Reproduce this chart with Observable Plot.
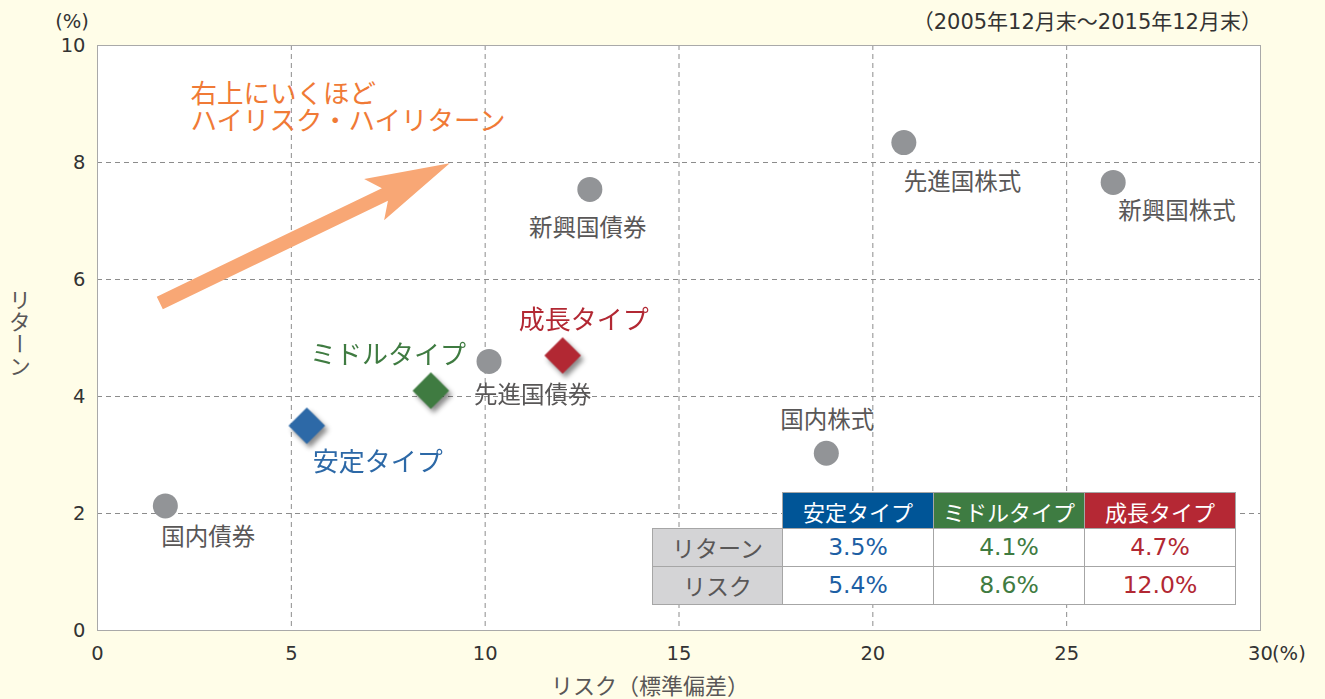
<!DOCTYPE html>
<html><head><meta charset="utf-8">
<script src="https://cdn.jsdelivr.net/npm/d3@7"></script>
<script src="https://cdn.jsdelivr.net/npm/@observablehq/plot@0.6"></script>
<style>
body{margin:0;background:#fffde8;}
#wrap{position:relative;width:1325px;height:699px;font-family:"Noto Sans CJK JP",sans-serif;color:#595757;overflow:hidden;}
#wrap svg{position:absolute;left:0;top:0;}
.ov{position:absolute;white-space:nowrap;line-height:1;}
table.tb{position:absolute;left:652px;top:492px;border-collapse:collapse;font-family:"Noto Sans CJK JP",sans-serif;}
table.tb td{border:1px solid #a6a6a6;text-align:center;padding:0;line-height:1;}
table.tb td.hd{color:#fff;font-size:22px;height:35px;}
table.tb td.rh{background:#d4d4d6;color:#595757;font-size:23px;width:129px;height:37px;}
table.tb td.val{background:#fff;font-size:23.5px;font-family:"DejaVu Sans","Noto Sans CJK JP",sans-serif;width:150px;}
table.tb td.empty{border:none;background:transparent;}
</style></head><body><div id="wrap"></div>
<script>
// ---- data ----
const assetNames = ["国内債券","先進国債券","新興国債券","国内株式","先進国株式","新興国株式"];
const assetRisk = [1.75, 10.1, 12.7, 18.8, 20.8, 26.2];
const assetReturn = [2.13, 4.6, 7.54, 3.03, 8.34, 7.66];
const typeNames = ["安定タイプ","ミドルタイプ","成長タイプ"];
const typeRisk = [5.4, 8.6, 12.0];
const typeReturn = [3.5, 4.1, 4.7];
const typeColors = ["#2d69a7","#3f7b41","#b22833"];
const typeHeaderColors = ["#005597","#3e7c42","#b52834"];
const typeTextColors = ["#1d5fa4","#3f7b41","#b22833"];
const xTicks = [0,5,10,15,20,25,30];
const yTicks = [0,2,4,6,8,10];
const arrowFrom = [1.62, 5.59];
const arrowTo = [9.1, 7.98];
const noteText = "右上にいくほど\nハイリスク・ハイリターン";
const notePos = [2.4, 8.94];
const tableRowNames = ["リターン","リスク"];
const titleText = "（2005年12月末～2015年12月末）";
const xLabel = "リスク（標準偏差）";
const yLabel = "リターン";

const assets = assetNames.map((n,i)=>({name:n, x:assetRisk[i], y:assetReturn[i]}));
const types = typeNames.map((n,i)=>({name:n, x:typeRisk[i], y:typeReturn[i], color:typeColors[i]}));

const labelFont = "'Noto Sans CJK JP',sans-serif";
const pick = names => d => names.includes(d.name);

function arrowMark(index, scales) {
  const sx = scales.x, sy = scales.y;
  const x0 = sx(arrowFrom[0]), y0 = sy(arrowFrom[1]);
  const x1 = sx(arrowTo[0]), y1 = sy(arrowTo[1]);
  const dx = x1-x0, dy = y1-y0, L = Math.hypot(dx,dy);
  const ux = dx/L, uy = dy/L, nx = -uy, ny = ux;
  const headLen = 84, headHalf = 23, shaftHalf = 7;
  const bx = x1 - ux*headLen, by = y1 - uy*headLen;
  const pts = [
    [x0 + nx*shaftHalf, y0 + ny*shaftHalf],
    [bx + ux*12 + nx*shaftHalf, by + uy*12 + ny*shaftHalf],
    [bx + nx*headHalf, by + ny*headHalf],
    [x1, y1],
    [bx - nx*headHalf, by - ny*headHalf],
    [bx + ux*12 - nx*shaftHalf, by + uy*12 - ny*shaftHalf],
    [x0 - nx*shaftHalf, y0 - ny*shaftHalf]
  ];
  const p = document.createElementNS("http://www.w3.org/2000/svg","path");
  p.setAttribute("d", "M" + pts.map(q=>q.join(",")).join("L") + "Z");
  p.setAttribute("fill", "#f8a775");
  const g = document.createElementNS("http://www.w3.org/2000/svg","g");
  g.appendChild(p);
  return g;
}

const plot = Plot.plot({
  width: 1325, height: 699,
  marginLeft: 97, marginRight: 65, marginTop: 45, marginBottom: 69,
  style: {background: "transparent", fontFamily: "'DejaVu Sans','Noto Sans CJK JP',sans-serif", fontSize: "19px", color: "#333"},
  x: {domain: [0,30], label: null},
  y: {domain: [0,10], label: null},
  color: {type: "identity"},
  marks: [
    Plot.frame({fill: "white", stroke: "none"}),
    Plot.gridX(xTicks.slice(1,-1), {stroke: "#8c8c8c", strokeOpacity: 1, strokeDasharray: "5,4"}),
    Plot.gridY(yTicks.slice(1,-1), {stroke: "#8c8c8c", strokeOpacity: 1, strokeDasharray: "5,4"}),
    Plot.frame({stroke: "#a9a9a9"}),
    Plot.axisX(xTicks, {tickSize: 0, tickPadding: 16, fontSize: 19.5, fill: "#333", tickFormat: d => String(d)}),
    Plot.axisY(yTicks, {tickSize: 0, tickPadding: 12, fontSize: 19.5, fill: "#333", tickFormat: d => String(d)}),
    arrowMark,
    Plot.text([noteText], {x: () => notePos[0], y: () => notePos[1], text: d => d, textAnchor: "start", fontSize: 26.5, lineHeight: 1.03, fill: "#f07a36", fontFamily: labelFont}),
    Plot.dot(assets, {x: "x", y: "y", r: 12.5, fill: "#929497"}),
    Plot.dot(types, {x: "x", y: "y", symbol: "diamond2", r: 16.5, fill: "color"}),
    // asset labels
    Plot.text(assets, {filter: pick(["国内債券"]), x: "x", y: "y", text: "name", textAnchor: "start", dx: -4, dy: 32, fontSize: 23.5, fill: "#595757", fontFamily: labelFont}),
    Plot.text(assets, {filter: pick(["新興国債券"]), x: "x", y: "y", text: "name", dx: -2, dy: 39, fontSize: 23.5, fill: "#595757", fontFamily: labelFont}),
    Plot.text(assets, {filter: pick(["先進国株式"]), x: "x", y: "y", text: "name", textAnchor: "start", dx: 0, dy: 40, fontSize: 23.5, fill: "#595757", fontFamily: labelFont}),
    Plot.text(assets, {filter: pick(["新興国株式"]), x: "x", y: "y", text: "name", textAnchor: "start", dx: 5, dy: 29, fontSize: 23.5, fill: "#595757", fontFamily: labelFont}),
    Plot.text(assets, {filter: pick(["国内株式"]), x: "x", y: "y", text: "name", dx: 1, dy: -33, fontSize: 23.5, fill: "#595757", fontFamily: labelFont}),
    Plot.text(assets, {filter: pick(["先進国債券"]), x: "x", y: "y", text: "name", textAnchor: "start", dx: -15, dy: 34, fontSize: 23.5, fill: "#595757", fontFamily: labelFont}),
    // type labels
    Plot.text(types, {filter: pick(["安定タイプ"]), x: "x", y: "y", text: "name", textAnchor: "start", dx: 6, dy: 37, fontSize: 26, fill: "color", fontFamily: labelFont}),
    Plot.text(types, {filter: pick(["ミドルタイプ"]), x: "x", y: "y", text: "name", textAnchor: "end", dx: 35, dy: -35, fontSize: 26, fill: "color", fontFamily: labelFont}),
    Plot.text(types, {filter: pick(["成長タイプ"]), x: "x", y: "y", text: "name", dx: 21, dy: -35, fontSize: 26, fill: "color", fontFamily: labelFont})
  ]
});

const wrap = document.getElementById("wrap");
wrap.appendChild(plot);
const dotGroups = plot.querySelectorAll('g[aria-label="dot"]');
if (dotGroups.length > 1) dotGroups[1].style.filter = "drop-shadow(3px 4px 2.5px rgba(0,0,0,0.45))";

function ov(text, css) {
  const d = document.createElement("div");
  d.className = "ov";
  d.textContent = text;
  d.style.cssText += css;
  wrap.appendChild(d);
  return d;
}
ov("(%)", "left:72px;top:22px;transform:translate(-50%,-50%);font-size:19.5px;color:#333;font-family:'DejaVu Sans',sans-serif;");
ov("(%)", "left:1272px;top:654px;transform:translate(0,-50%);font-size:19.5px;color:#333;font-family:'DejaVu Sans',sans-serif;");
ov(titleText, "right:63px;top:22px;transform:translate(0,-50%);font-size:21px;color:#333;font-family:'DejaVu Sans','Noto Sans CJK JP',sans-serif;");
ov(xLabel, "left:650px;top:684px;transform:translate(-50%,-50%);font-size:22px;color:#595757;");
ov(yLabel, "left:20px;top:333px;transform:translate(-50%,-50%);font-size:22px;color:#595757;writing-mode:vertical-rl;");

// table
const tb = document.createElement("table");
tb.className = "tb";
let html = '<tr><td class="empty"></td>' + typeNames.map((n,i)=>`<td class="hd" style="background:${typeHeaderColors[i]}">${n}</td>`).join("") + '</tr>';
const rowVals = [typeReturn, typeRisk];
tableRowNames.forEach((r,ri)=>{
  html += `<tr><td class="rh">${r}</td>` + rowVals[ri].map((v,i)=>`<td class="val" style="color:${typeTextColors[i]}">${v.toFixed(1)}%</td>`).join("") + '</tr>';
});
tb.innerHTML = html;
wrap.appendChild(tb);
</script>
</body></html>
